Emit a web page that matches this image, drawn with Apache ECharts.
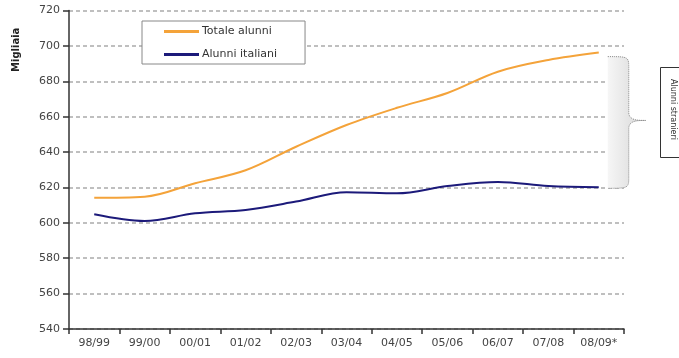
<!DOCTYPE html>
<html>
<head>
<meta charset="utf-8">
<script src="https://cdn.jsdelivr.net/npm/echarts@6/dist/echarts.min.js"></script>
<style>html,body{margin:0;padding:0;background:#fff;}#c{width:679px;height:358px;}</style>
</head>
<body>
<div id="c"></div>
<script>
const categories = ['98/99','99/00','00/01','01/02','02/03','03/04','04/05','05/06','06/07','07/08','08/09*'];
const totaleAlunni = [614.2, 614.8, 622.4, 629.7, 643, 655.3, 665, 673.4, 685.4, 692, 696.2];
const alunniItaliani = [604.8, 601, 605.4, 607.3, 612, 617.3, 616.7, 620.8, 623.1, 620.8, 620.1];
const yTicks = {min: 540, max: 720, interval: 20};

const chart = echarts.init(document.getElementById('c'), null, {renderer: 'canvas'});
const font = 'DejaVu Sans, Verdana, sans-serif';
const last = categories.length - 1;

function braceItem(params, api) {
  const pTop = api.coord([api.value(0), api.value(1)]);
  const pBot = api.coord([api.value(0), api.value(2)]);
  const x0 = pTop[0] + 9, x1 = x0 + 21, tip = x1 + 17;
  const yT = pTop[1] + 4, yB = pBot[1] + 1, yM = (yT + yB) / 2 - 2;
  const brace = `M${x0},${yT} C${x1},${yT} ${x1},${yT} ${x1},${yT+12} L${x1},${yM-8} C${x1},${yM} ${tip-8},${yM} ${tip},${yM} C${tip-8},${yM} ${x1},${yM} ${x1},${yM+8} L${x1},${yB-12} C${x1},${yB} ${x1},${yB} ${x0},${yB}`;
  return {
    type: 'group',
    children: [
      {type: 'path', shape: {pathData: brace + ` L${x0},${yT} Z`},
       style: {fill: {type: 'linear', x: 0, y: 0, x2: 1, y2: 0, colorStops: [{offset: 0, color: '#f6f6f6'}, {offset: 1, color: '#d6d6d6'}]}, stroke: null}},
      {type: 'path', shape: {pathData: brace},
       style: {fill: null, stroke: '#888', lineWidth: 1, lineDash: [1, 1]}}
    ]
  };
}

chart.setOption({
  animation: false,
  backgroundColor: '#fff',
  grid: {left: 69, right: 55, top: 10.5, bottom: 29},
  legend: {
    orient: 'vertical', left: 142, top: 21,
    padding: [5, 28, 4, 22],
    backgroundColor: '#fff', borderColor: '#888', borderWidth: 1,
    itemWidth: 35, itemHeight: 3, itemGap: 12,
    textStyle: {fontFamily: font, fontSize: 11, color: '#333', padding: [0,0,0,-2]},
    data: [
      {name: 'Totale alunni', icon: 'rect'},
      {name: 'Alunni italiani', icon: 'rect'}
    ]
  },
  xAxis: {
    type: 'category', data: categories, boundaryGap: true,
    axisLine: {lineStyle: {color: '#333', width: 1.5}},
    axisTick: {show: true, length: 5, lineStyle: {color: '#333', width: 1.5}},
    axisLabel: {fontFamily: font, fontSize: 11, color: '#444', margin: 9}
  },
  yAxis: {
    type: 'value', min: yTicks.min, max: yTicks.max, interval: yTicks.interval,
    axisLine: {show: true, lineStyle: {color: '#333', width: 1.5}},
    axisTick: {show: true, length: 6, lineStyle: {color: '#333', width: 1.5}},
    axisLabel: {fontFamily: font, fontSize: 11, color: '#444', margin: 9},
    splitLine: {lineStyle: {color: '#aaa', type: [4, 3], width: 1.5}}
  },
  series: [
    {name: 'Totale alunni', type: 'line', data: totaleAlunni, smooth: 0.35, showSymbol: false, z: 3,
     lineStyle: {color: '#f4a33a', width: 2}, itemStyle: {color: '#f4a33a'}},
    {name: 'Alunni italiani', type: 'line', data: alunniItaliani, smooth: 0.35, showSymbol: false, z: 3,
     lineStyle: {color: '#1c1a7a', width: 2}, itemStyle: {color: '#1c1a7a'}},
    {name: 'brace', type: 'custom', clip: false, z: 2, silent: true,
     data: [[last, totaleAlunni[last], alunniItaliani[last]]],
     encode: {x: 0, y: [1, 2]},
     renderItem: braceItem}
  ],
  graphic: [
    {type: 'text', x: 11, y: 72, rotation: Math.PI/2,
     style: {text: 'Migliaia', font: 'bold 10px ' + font, fill: '#222'}},
    {type: 'rect', z: 6, shape: {x: 660.5, y: 67.5, width: 30, height: 90},
     style: {fill: '#fff', stroke: '#333', lineWidth: 1}},
    {type: 'text', z: 7, x: 677, y: 79, rotation: -Math.PI/2,
     style: {text: 'Alunni stranieri', font: '8px ' + font, fill: '#333'}}
  ]
});
</script>
</body>
</html>
